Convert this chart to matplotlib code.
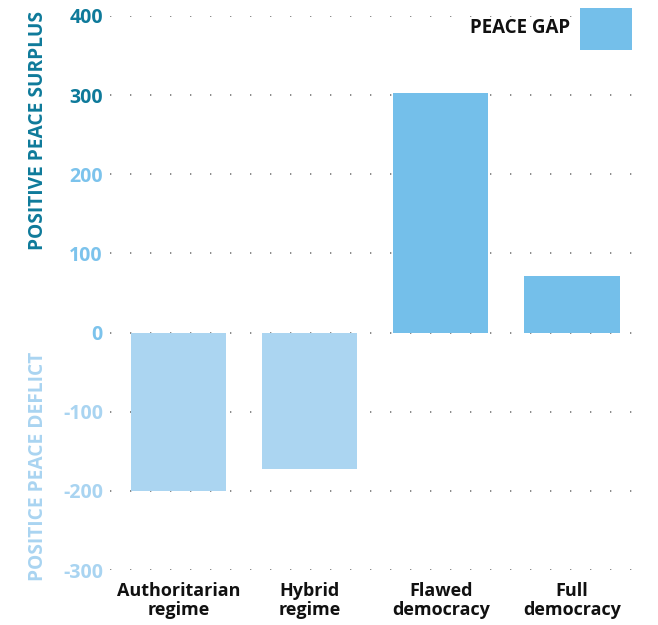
import matplotlib.pyplot as plt
from matplotlib.patches import Rectangle
import numpy as np

plt.rcParams['font.family'] = ['Open Sans', 'DejaVu Sans']

# regime types and their positive peace gap
regimes = ["Authoritarian\nregime", "Hybrid\nregime", "Flawed\ndemocracy", "Full\ndemocracy"]
peace_gap = [-200, -172, 303, 72]
y_ticks = [-300, -200, -100, 0, 100, 200, 300, 400]

DARK = "#0e7a9a"
MID = "#7cc3ec"
LIGHT = "#a9d4f1"
BAR_POS = "#74bfea"
BAR_NEG = "#abd5f1"

fig = plt.figure(figsize=(6.58, 6.25), dpi=100)
ax = fig.add_axes([0.167, 0.088, 0.806, 0.8865])

x = np.arange(len(regimes))
colors = [BAR_POS if v >= 0 else BAR_NEG for v in peace_gap]
ax.bar(x, peace_gap, width=0.725, color=colors, zorder=2)

ax.set_xlim(-0.523, 3.52)
ax.set_ylim(-300, 400)
ax.set_yticks(y_ticks)
ax.set_yticklabels([str(t) for t in y_ticks], fontsize=14, fontweight="bold")
for lab, t in zip(ax.get_yticklabels(), y_ticks):
    if t >= 300:
        lab.set_color(DARK)
    elif t >= 0:
        lab.set_color(MID)
    else:
        lab.set_color(LIGHT)

ax.set_xticks(x)
ax.set_xticklabels(regimes, fontsize=13, fontweight="bold", color="#111111",
                   linespacing=1.05)
ax.tick_params(axis="x", length=0, pad=9)
ax.tick_params(axis="y", length=0, pad=5)

# dotted grid
for t in y_ticks:
    ax.axhline(t, color="#777777", lw=1.2, linestyle=(0, (0.8, 11.2)), zorder=1)

for s in ax.spines.values():
    s.set_visible(False)

fig.text(0.058, 0.792, "POSITIVE PEACE SURPLUS", rotation=90, ha="center", va="center",
         fontsize=13.8, fontweight="bold", color=DARK)
fig.text(0.058, 0.254, "POSITICE PEACE DEFLICT", rotation=90, ha="center", va="center",
         fontsize=13.8, fontweight="bold", color=LIGHT)

# legend key, top right
fig.add_artist(Rectangle((0.8815, 0.92), 0.079, 0.0672, transform=fig.transFigure,
                         facecolor=BAR_POS, edgecolor="none", zorder=5))
fig.text(0.866, 0.955, "PEACE GAP", ha="right", va="center", fontsize=13.5,
         fontweight="bold", color="#111111", zorder=5)

fig.savefig("out.png", dpi=100)
